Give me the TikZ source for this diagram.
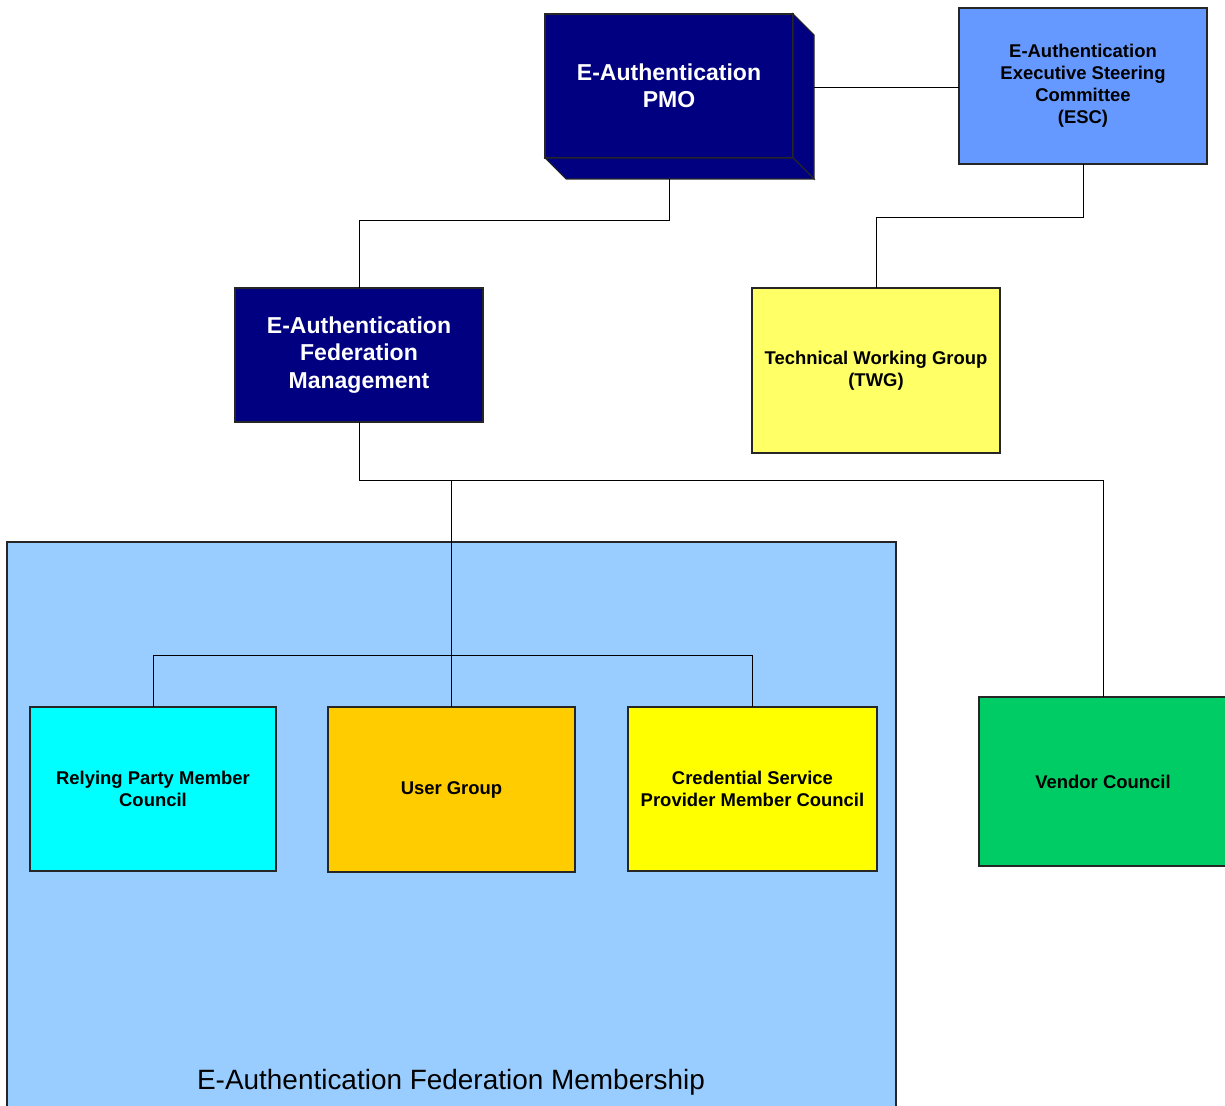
\documentclass[tikz,border=0pt]{standalone}
\usepackage{fontspec}
\setmainfont{Liberation Sans}
\usepackage{tikz}
\usetikzlibrary{calc}
\definecolor{pmonavy}{RGB}{0,0,128}
\definecolor{escblue}{RGB}{102,153,255}
\definecolor{twgyellow}{RGB}{255,255,102}
\definecolor{memberblue}{RGB}{153,204,255}
\definecolor{rpcyan}{RGB}{0,255,255}
\definecolor{usergold}{RGB}{255,204,0}
\definecolor{cspyellow}{RGB}{255,255,0}
\definecolor{vendorgreen}{RGB}{0,204,102}
\tikzset{
orgbox/.style={draw=black!85, line width=0.6pt, inner sep=0pt, outer sep=0pt, align=center, minimum width=4.96cm},
bigtext/.style={font=\fontsize{13.1}{15.6}\selectfont\bfseries, text=white},
smalltext/.style={font=\fontsize{10.5}{12.5}\selectfont\bfseries},
link/.style={draw=black, line width=0.5pt}
}
\begin{document}
\begin{tikzpicture}
\useasboundingbox (0,0) rectangle (24.5,-22.12);
\begin{scope}
\clip (0,0) rectangle (24.5,-22.12);
\fill[memberblue, draw=black!85, line width=0.6pt] (0.14,-10.84) rectangle (17.92,-22.4);
\node[font=\fontsize{15.9}{18}\selectfont] (memlabel) at (9.02,-21.64) {E-Authentication Federation Membership};
\node[orgbox, fill=vendorgreen, minimum height=3.38cm, smalltext] (vendor) at (22.06,-15.63) {Vendor Council};
\end{scope}
\node[orgbox, fill=pmonavy, minimum height=2.88cm, bigtext] (pmo) at (13.38,-1.72) {E-Authentication\\PMO};
\fill[pmonavy, draw=black!85, line width=0.6pt] (pmo.north east) -- ++(0.42,-0.42) -- ($(pmo.south east)+(0.42,-0.42)$) -- (pmo.south east) -- cycle;
\fill[pmonavy, draw=black!85, line width=0.6pt] (pmo.south west) -- ++(0.42,-0.42) -- ($(pmo.south east)+(0.42,-0.42)$) -- (pmo.south east) -- cycle;
\coordinate (pmoside) at ($(pmo.east)+(0.42,-0.02)$);
\coordinate (pmobase) at ($(pmo.south)+(0,-0.42)$);
\node[orgbox, fill=escblue, minimum height=3.12cm, smalltext] (esc) at (21.66,-1.72) {E-Authentication\\Executive Steering\\Committee\\(ESC)};
\node[orgbox, fill=pmonavy, minimum height=2.68cm, bigtext] (fed) at (7.18,-7.10) {E-Authentication\\Federation\\Management};
\node[orgbox, fill=twgyellow, minimum height=3.30cm, smalltext] (twg) at (17.52,-7.41) {Technical Working Group\\(TWG)};
\node[orgbox, fill=rpcyan, minimum width=4.92cm, minimum height=3.28cm, smalltext] (relying) at (3.06,-15.78) {Relying Party Member\\Council};
\node[orgbox, fill=usergold, minimum width=4.94cm, minimum height=3.30cm, smalltext] (user) at (9.03,-15.79) {User Group};
\node[orgbox, fill=cspyellow, minimum width=4.98cm, minimum height=3.28cm, smalltext] (csp) at (15.05,-15.78) {Credential Service\\Provider Member Council};
\draw[link] (pmoside) -- (pmoside -| esc.west);
\draw[link] (pmobase) -- ++(0,-0.82) -| (fed.north);
\draw[link] (esc.south) -- ++(0,-1.06) -| (twg.north);
\coordinate (split) at ($(fed.south)+(0,-1.16)$);
\draw[link] (fed.south) -- (split) -| (vendor.north);
\draw[link] (split -| user.north) -- (user.north);
\draw[link] (relying.north) -- ++(0,1.04) -| (csp.north);
\end{tikzpicture}
\end{document}
